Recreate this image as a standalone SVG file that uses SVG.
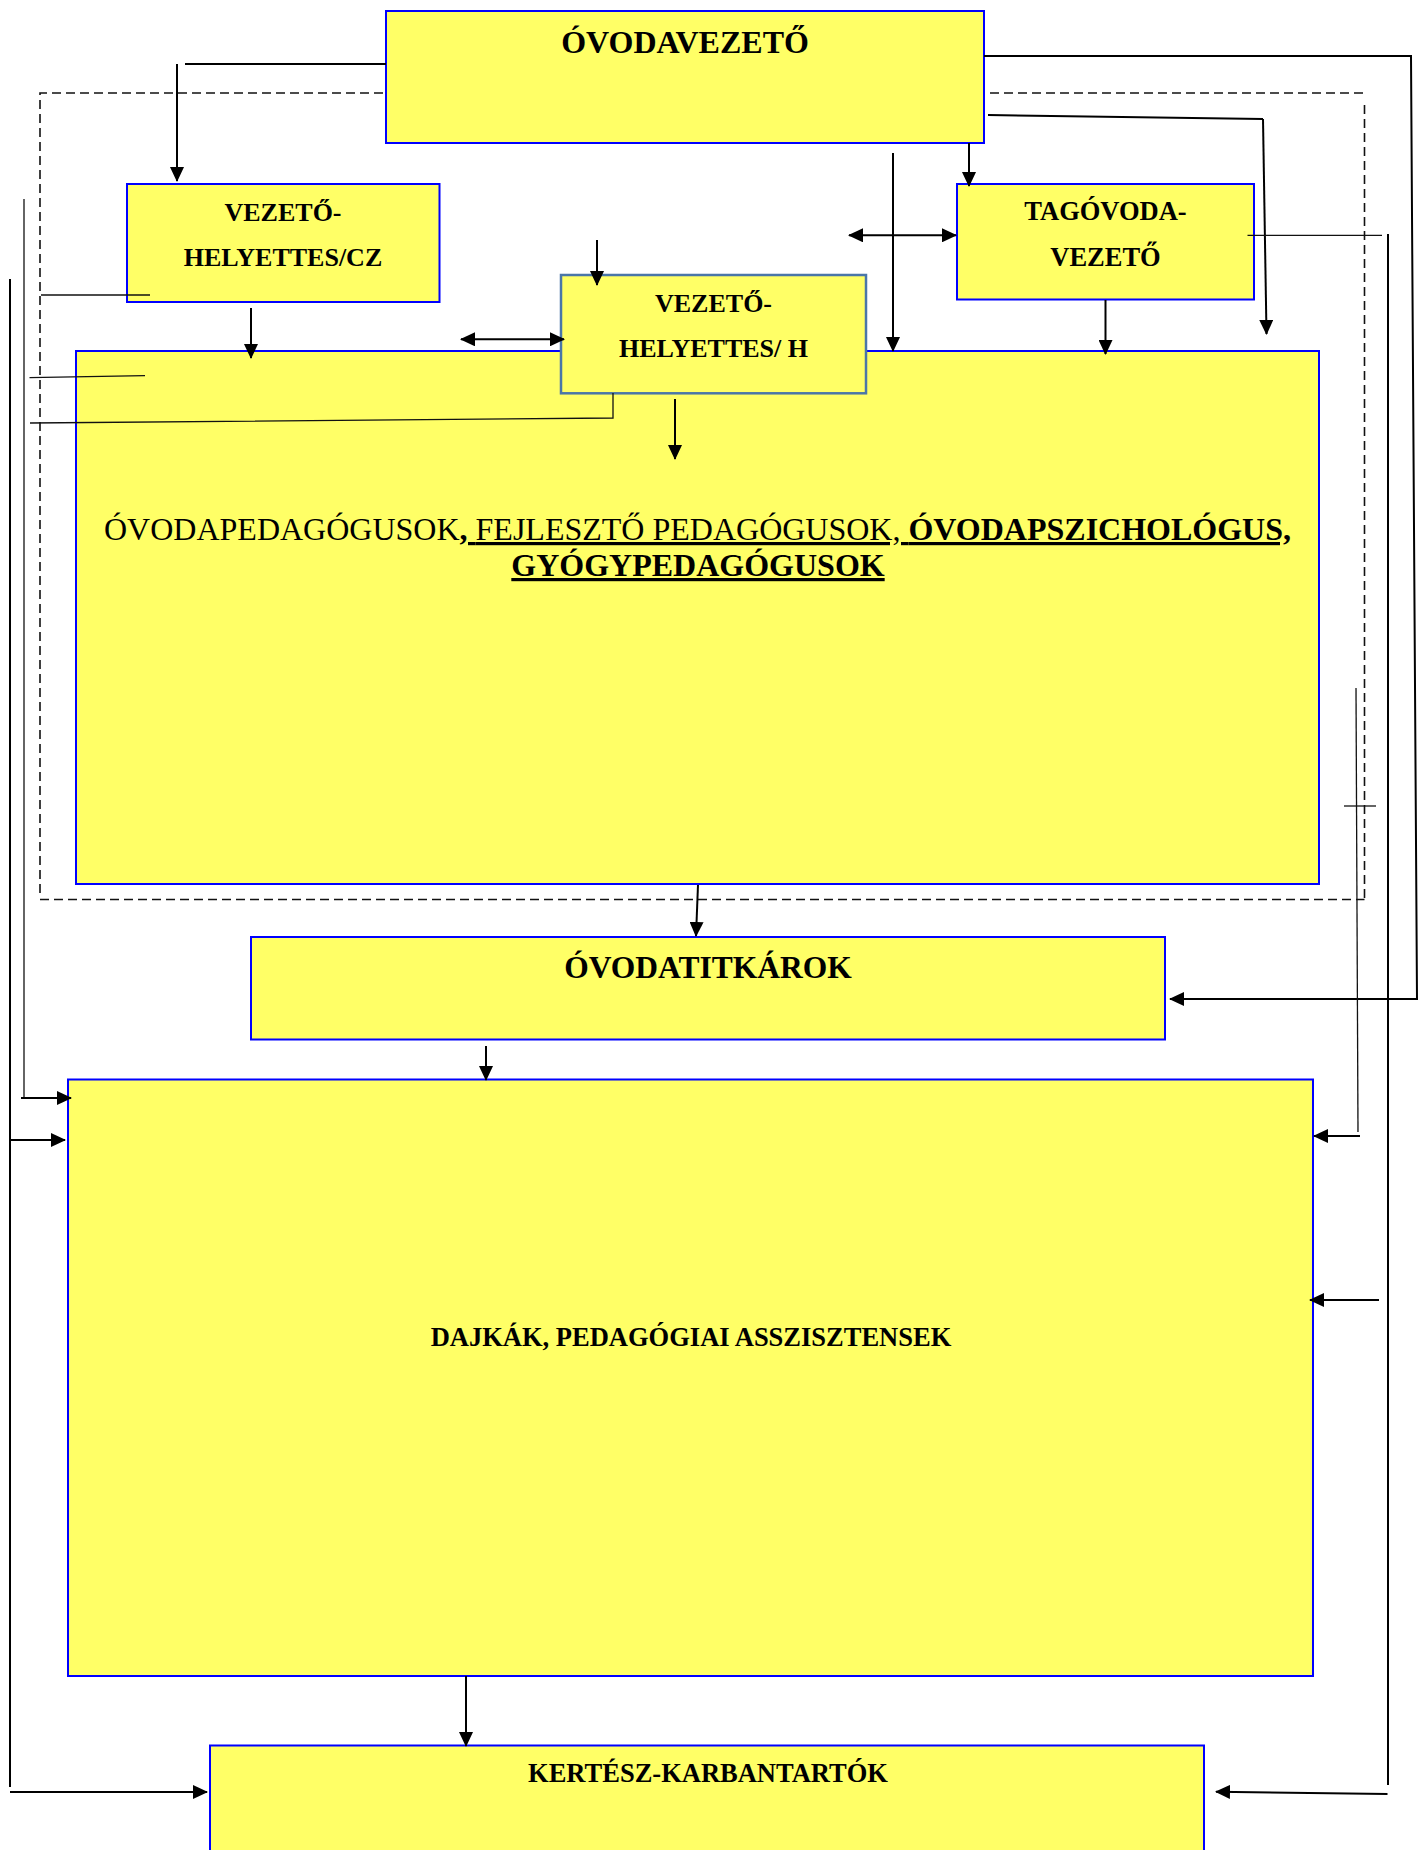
<svg xmlns="http://www.w3.org/2000/svg" width="1422" height="1850" viewBox="0 0 1422 1850">
<style>
.box{fill:#ffff66;stroke:#0000ff;stroke-width:2}
.boxh{fill:#ffff66;stroke:#4a76a8;stroke-width:2.5}
.t{font-family:"Liberation Serif","Times New Roman",serif;fill:#000;text-anchor:middle}
.b{font-weight:bold}
.c{fill:none;stroke:#000;stroke-width:2}
.a{fill:none;stroke:#000;stroke-width:2;marker-end:url(#ah)}
.d{fill:none;stroke:#000;stroke-width:2;marker-end:url(#ah);marker-start:url(#ah)}
.th{fill:none;stroke:#111;stroke-width:1.3}
.dash{fill:none;stroke:#111;stroke-width:1.6;stroke-dasharray:9 5}
</style>
<defs>
<marker id="ah" markerUnits="userSpaceOnUse" markerWidth="15" markerHeight="14" refX="14" refY="7" orient="auto-start-reverse">
<path d="M0,0 L15,7 L0,14 z" fill="#000"/>
</marker>
</defs>
<rect width="1422" height="1850" fill="#fff"/>
<g id="boundary">
<path class="dash" d="M40,893 V93 H1368 M1364.5,105 V903 M40,899.5 H1364.5"/>
</g>
<g id="ovodavezeto">
<rect class="box" x="386" y="11" width="598" height="132"/>
<text class="t b" x="685" y="53" font-size="32">ÓVODAVEZETŐ</text>
</g>
<g id="vezetohelyettes-cz">
<rect class="box" x="127" y="184" width="312.5" height="118"/>
<text class="t b" x="283" y="220.7" font-size="26">VEZETŐ-</text>
<text class="t b" x="283" y="265.7" font-size="26">HELYETTES/CZ</text>
</g>
<g id="tagovodavezeto">
<rect class="box" x="957" y="184" width="297" height="115.5"/>
<text class="t b" x="1105.5" y="220" font-size="26.5">TAGÓVODA-</text>
<text class="t b" x="1105.5" y="265.7" font-size="26.5">VEZETŐ</text>
</g>
<g id="ovodapedagogusok">
<rect class="box" x="76" y="351" width="1243" height="533" stroke-width="1.5"/>
<text class="t" x="697.5" y="540" font-size="32"><tspan>ÓVODAPEDAGÓGUSOK</tspan><tspan class="b" text-decoration="underline">, </tspan><tspan text-decoration="underline">FEJLESZTŐ PEDAGÓGUSOK, </tspan><tspan class="b" text-decoration="underline">ÓVODAPSZICHOLÓGUS,</tspan></text>
<text class="t b" x="698" y="576" font-size="32" text-decoration="underline">GYÓGYPEDAGÓGUSOK</text>
</g>
<g id="vezetohelyettes-h">
<rect class="boxh" x="561" y="275" width="305" height="118.3"/>
<text class="t b" x="713.5" y="311.7" font-size="26">VEZETŐ-</text>
<text class="t b" x="713.5" y="356.7" font-size="26">HELYETTES/ H</text>
</g>
<g id="ovodatitkarok">
<rect class="box" x="251" y="937" width="914" height="102.5"/>
<text class="t b" x="708" y="978" font-size="31.5">ÓVODATITKÁROK</text>
</g>
<g id="dajkak">
<rect class="box" x="68" y="1079.5" width="1245" height="596.5"/>
<text class="t b" x="691" y="1346" font-size="26.5">DAJKÁK, PEDAGÓGIAI ASSZISZTENSEK</text>
</g>
<g id="kertesz">
<rect class="box" x="210" y="1745.5" width="994" height="130"/>
<text class="t b" x="708" y="1782" font-size="26.5">KERTÉSZ-KARBANTARTÓK</text>
</g>
<g id="connectors">
<path class="c" d="M386,64 H185"/>
<path class="a" d="M177,64 V181"/>
<path class="c" d="M984,56 H1411 L1417,1000"/>
<path class="a" d="M1417,999 H1170"/>
<path class="c" d="M988,115 L1263,119"/>
<path class="a" d="M1263,119 L1266.5,334"/>
<path class="a" d="M969,143 V186"/>
<path class="a" d="M893,153 V351"/>
<path class="d" d="M849,235.3 H956"/>
<path class="a" d="M1105.5,300 V354"/>
<path class="th" d="M1247.5,235.3 H1382"/>
<path class="c" d="M1388,234 V1785"/>
<path class="a" d="M1387.5,1794 L1216,1791.7"/>
<path class="a" d="M1379,1300 H1310"/>
<path class="th" d="M1356,688 L1358,1132"/>
<path class="a" d="M1360,1136 H1314"/>
<path class="th" d="M1344,806 H1376"/>
<path class="a" d="M698,885 L696,936"/>
<path class="a" d="M486,1046 V1080"/>
<path class="a" d="M466,1676 V1746"/>
<path class="a" d="M251,308 V358"/>
<path class="a" d="M597,240 V285"/>
<path class="d" d="M461,339.3 H564"/>
<path class="a" d="M675,399 V459"/>
<path class="th" d="M41,295 H150"/>
<path class="th" d="M29.5,377.7 L145,375.7"/>
<path class="th" d="M613,393 V418 L30,423"/>
<path class="th" d="M24,199 V1098"/>
<path class="a" d="M21,1098 H71"/>
<path class="c" d="M10,279 V1787"/>
<path class="a" d="M10,1140 H65"/>
<path class="a" d="M10,1792 H207"/>
</g>
</svg>
